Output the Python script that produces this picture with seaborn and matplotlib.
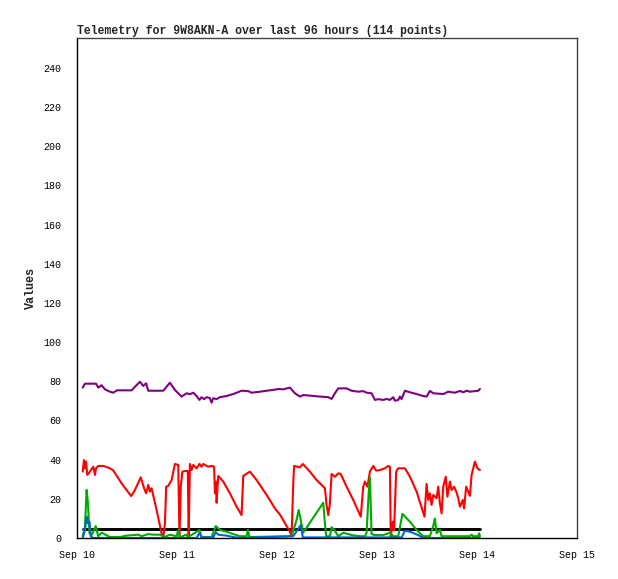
import matplotlib
matplotlib.use("Agg")
import matplotlib.pyplot as plt
import seaborn as sns
import pandas as pd

# hours since Sep 10 00:00
purple_h = [1.37, 1.92, 4.56, 5.1, 5.9, 6.7, 7.9, 8.7, 9.6, 13.1, 15.1, 15.9, 16.6, 17.1, 20.7,
            22.3, 23.5, 25.1, 26.3, 27.1, 27.9, 28.7, 29.4, 29.9, 30.5, 31.1, 31.9, 32.3, 32.7,
            33.5, 34.3, 35.9, 37.5, 39.5, 41.1, 41.9, 43.9, 45.5, 47.1, 48.3, 49.5, 51.1, 52.3,
            53.5, 54.3, 55.9, 58.3, 60.3, 61.1, 61.9, 62.7, 64.7, 65.9, 67.5, 68.7, 69.5, 70.7,
            71.5, 72.3, 73.5, 74.3, 75.1, 75.9, 76.3, 77.1, 77.5, 77.9, 78.7, 79.9, 81.5, 83.1,
            83.9, 84.7, 85.5, 87.9, 89.1, 90.7, 91.9, 92.7, 93.5, 94.3, 96.3, 96.7]
purple_v = [76.8, 78.8, 78.8, 76.8, 78.0, 75.9, 74.7, 74.2, 75.4, 75.4, 79.8, 77.6, 79.0, 75.2, 75.2,
            79.3, 75.6, 72.2, 73.9, 73.4, 74.2, 72.5, 70.5, 71.9, 70.9, 71.9, 71.4, 69.1, 71.4,
            70.9, 71.9, 72.5, 73.5, 75.2, 75.0, 74.2, 74.7, 75.2, 75.6, 76.1, 75.9, 76.8, 73.9,
            72.2, 73.0, 72.7, 72.2, 71.9, 71.0, 73.9, 76.4, 76.4, 75.2, 74.7, 75.0, 74.2, 73.9,
            70.5, 70.9, 70.5, 71.0, 70.5, 71.9, 70.1, 70.5, 72.2, 70.9, 75.2, 74.4, 73.5, 72.5,
            72.2, 75.1, 73.9, 73.5, 74.7, 74.2, 75.1, 74.4, 75.2, 74.7, 75.2, 76.1]

red_h = [1.37, 1.68, 1.92, 2.16, 2.47, 3.1, 3.9, 4.32, 4.56, 5.1, 6.3, 7.9, 8.7, 10.7, 13.0, 13.9,
         15.3, 16.1, 16.6, 17.1, 17.5, 17.9, 19.1, 20.3, 20.7, 21.1, 21.4, 21.9, 22.7, 23.5, 24.3,
         24.6, 24.9, 25.3, 25.9, 26.6, 26.8, 27.1, 27.5, 27.9, 28.7, 29.4, 29.9, 30.3, 31.5, 32.3,
         32.9, 33.1, 33.4, 33.5, 33.9, 35.1, 36.7, 38.3, 39.5, 39.9, 41.5, 43.1, 45.5, 47.5, 48.7,
         51.1, 51.5, 51.9, 52.1, 53.5, 54.2, 55.9, 57.5, 59.1, 59.5, 59.9, 60.3, 60.7, 61.1, 61.9,
         62.7, 63.3, 64.7, 66.3, 68.1, 68.7, 69.1, 69.7, 70.3, 71.1, 71.8, 72.7, 73.9, 74.7, 75.1,
         75.3, 75.8, 76.1, 76.6, 77.1, 77.9, 78.7, 79.9, 81.5, 83.4, 83.9, 84.3, 84.7, 85.1, 85.5,
         86.3, 86.7, 87.1, 87.5, 87.9, 88.5, 88.9, 89.5, 89.9, 90.5, 91.1, 91.5, 91.9, 92.6, 92.9,
         93.4, 93.9, 94.3, 94.7, 95.5, 96.1, 96.7]
red_v = [33.9, 39.8, 35.6, 39.0, 32.2, 33.9, 36.4, 32.2, 35.6, 36.8, 36.8, 35.6, 34.5, 27.9, 21.4, 24.5,
         31.0, 25.4, 22.8, 27.1, 23.7, 25.4, 14.3, 2.4, 0.0, 7.3, 26.2, 26.6, 29.6, 37.8, 37.3,
         0.0, 26.2, 33.9, 34.2, 34.2, 0.0, 37.8, 34.7, 37.3, 35.6, 37.8, 36.4, 37.8, 36.4, 36.8,
         36.4, 22.8, 28.8, 18.0, 31.7, 28.8, 22.8, 16.0, 11.7, 31.7, 33.9, 29.6, 22.0, 15.1, 12.0,
         3.2, 0.9, 27.9, 36.8, 36.1, 37.8, 33.9, 29.6, 26.2, 25.4, 16.9, 11.7, 17.7, 32.7, 31.3,
         33.0, 32.7, 26.2, 19.4, 10.9, 26.2, 28.8, 26.2, 33.9, 36.8, 34.4, 34.7, 35.6, 36.8, 36.4,
         0.5, 8.3, 4.1, 33.9, 35.6, 35.6, 35.6, 31.3, 23.7, 10.9, 27.6, 19.4, 22.8, 16.9, 22.0,
         20.3, 26.2, 17.7, 12.6, 26.2, 31.3, 21.1, 28.8, 24.5, 26.2, 23.2, 20.3, 16.0, 19.4, 15.1,
         26.2, 23.7, 21.5, 32.2, 39.0, 35.6, 34.7]

green_h = [1.37, 1.92, 2.3, 2.6, 3.0, 3.5, 3.9, 4.5, 5.1, 5.9, 7.1, 7.9, 10.3, 11.9, 14.7, 15.5,
           17.1, 18.3, 19.9, 21.1, 22.3, 23.9, 24.3, 24.7, 26.2, 26.7, 29.4, 29.9, 32.3, 33.3, 34.3,
           35.9, 37.5, 39.1, 40.7, 41.0, 41.4, 51.5, 52.7, 53.2, 53.7, 54.3, 59.1, 59.5, 59.8, 60.7,
           61.1, 61.9, 62.7, 63.9, 65.9, 67.9, 69.1, 69.5, 70.0, 70.3, 70.7, 71.5, 73.5, 75.1, 75.9,
           77.1, 78.1, 79.9, 81.5, 83.1, 84.7, 85.5, 85.9, 86.3, 87.1, 87.5, 94.3, 94.7, 95.1, 96.3,
           96.5, 96.7]
green_v = [0.9, 5.8, 24.5, 18.5, 2.4, 1.5, 3.2, 6.1, 0.9, 2.7, 1.4, 0.5, 0.5, 1.2, 1.7, 0.9,
           2.0, 1.7, 1.7, 0.5, 1.7, 0.9, 4.1, 0.3, 1.7, 0.5, 4.1, 0.5, 0.5, 6.1, 4.1,
           3.2, 2.0, 0.9, 0.9, 4.1, 0.5, 0.9, 9.2, 14.3, 9.2, 2.7, 18.0, 7.5, 0.9, 0.9,
           5.5, 3.7, 0.9, 2.7, 1.5, 0.9, 0.9, 2.7, 22.8, 31.0, 2.0, 1.5, 1.5, 2.7, 0.9,
           0.9, 12.3, 8.3, 4.1, 0.9, 0.9, 6.1, 10.0, 2.4, 4.1, 0.9, 0.9, 1.7, 0.9, 0.9,
           2.4, 0.9]

blue_h = [1.37, 1.92, 2.3, 2.6, 3.0, 3.3, 3.9, 28.7, 29.4, 29.9, 32.7, 33.3, 33.9, 35.9, 37.5, 39.1,
          51.9, 53.7, 54.2, 77.9, 78.7, 79.9, 81.9, 83.1, 96.7]
blue_v = [0.0, 4.1, 10.9, 7.5, 8.3, 0.9, 0.0, 0.0, 2.7, 0.3, 0.3, 3.0, 1.7, 1.2, 0.5, 0.0,
          0.9, 6.6, 0.3, 0.3, 3.7, 3.2, 1.5, 0.0, 0.0]

black_h = [1.37, 96.7]
black_v = [4.8, 4.8]

day_ticks = [0, 24, 48, 72, 96, 120]
day_labels = ["Sep 10", "Sep 11", "Sep 12", "Sep 13", "Sep 14", "Sep 15"]
y_ticks = list(range(0, 241, 20))

sns.set_style("white")
plt.rcParams['font.family'] = ['Liberation Mono', 'DejaVu Sans Mono']

fig = plt.figure(figsize=(6.18, 5.79), dpi=100)
ax = fig.add_axes([77 / 618, 41 / 579, 500 / 618, 500 / 579])

series = [(black_h, black_v, "black", 2.1),
          (purple_h, purple_v, "#800080", 1.5),
          (red_h, red_v, "#ff0000", 1.5),
          (green_h, green_v, "#00aa00", 1.5),
          (blue_h, blue_v, "#0066cc", 1.5)]
for hh, vv, col, lw in series:
    d = pd.DataFrame({"h": hh, "v": vv})
    sns.lineplot(data=d, x="h", y="v", ax=ax, color=col, linewidth=lw,
                 estimator=None, sort=False)

ax.set_xlim(0, 120)
ax.set_ylim(0, 255.3)
ax.set_xticks(day_ticks)
ax.set_xticklabels(day_labels)
ax.set_yticks(y_ticks)
ax.tick_params(axis="both", direction="out", length=5, width=1, color="black",
               labelsize=7.2, colors="black")
ax.tick_params(axis="y", pad=6)
ax.tick_params(axis="x", pad=4)
ax.set_xlabel("")
ax.set_ylabel("Values", fontsize=8.5, fontweight="bold", labelpad=5)
ax.set_title("Telemetry for 9W8AKN-A over last 96 hours (114 points)", loc="left",
             fontsize=8.3, fontweight="bold", pad=3)
for s in ["left", "bottom"]:
    ax.spines[s].set_color("black")
    ax.spines[s].set_linewidth(1)
for s in ["top", "right"]:
    ax.spines[s].set_color("#444444")
    ax.spines[s].set_linewidth(1)

fig.savefig("out.png", dpi=100)
